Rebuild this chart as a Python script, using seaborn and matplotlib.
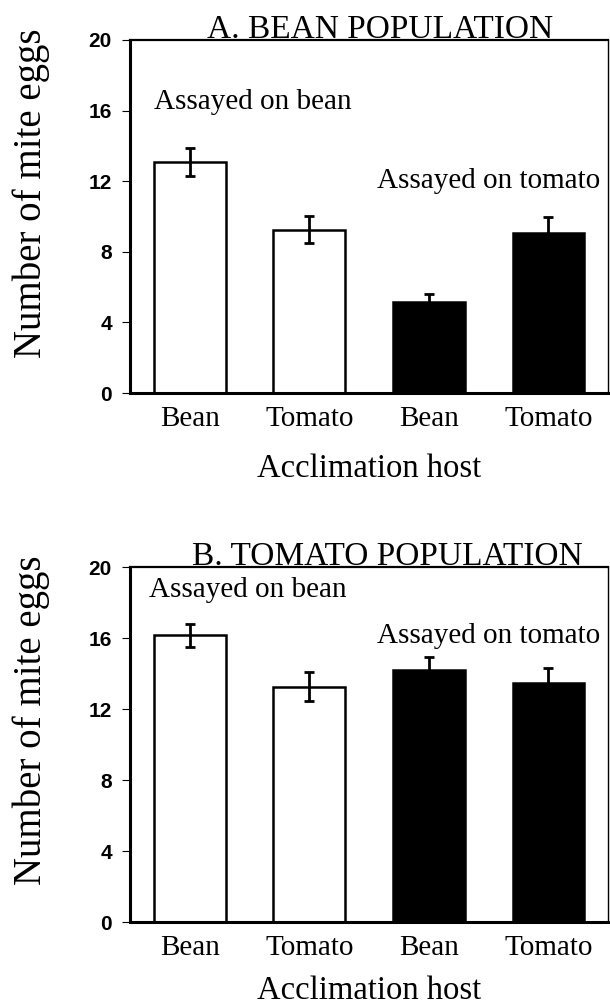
import numpy as np
import pandas as pd
import matplotlib
matplotlib.use("Agg")
import matplotlib.pyplot as plt
import seaborn as sns

# acclimation host per bar, assay host per bar
acclimation = ["Bean", "Tomato", "Bean", "Tomato"]
assay = ["bean", "bean", "tomato", "tomato"]

# panel A: bean population
bean_pop_mean = [13.1, 9.25, 5.15, 9.05]
bean_pop_se = [0.8, 0.77, 0.45, 0.9]

# panel B: tomato population
tomato_pop_mean = [16.15, 13.25, 14.2, 13.45]
tomato_pop_se = [0.65, 0.82, 0.75, 0.85]

panel_titles = ["A. BEAN POPULATION", "B. TOMATO POPULATION"]
yticks = [0, 4, 8, 12, 16, 20]

sns.set_style("white")
plt.rcParams.update({
    "text.color": "black",
    "axes.labelcolor": "black",
    "xtick.color": "black",
    "ytick.color": "black",
})
serif = "Liberation Serif"
sans = "Liberation Sans"

fig = plt.figure(figsize=(6.1, 10.07), dpi=100)
ax_a = fig.add_axes([0.213, 0.6097, 0.784, 0.3506])
ax_b = fig.add_axes([0.213, 0.0844, 0.784, 0.3525])

# label positions (data coords) for the "Assayed on ..." notes
notes = [
    [(-0.3, 16.1, "Assayed on bean"), (1.57, 11.6, "Assayed on tomato")],
    [(-0.34, 18.3, "Assayed on bean"), (1.57, 15.7, "Assayed on tomato")],
]
title_x = [0.524, 0.539]
xlabel_pad = [15.5, 10.5]

for ax, means, ses, title, tx, note, lpad in zip(
    [ax_a, ax_b],
    [bean_pop_mean, tomato_pop_mean],
    [bean_pop_se, tomato_pop_se],
    panel_titles,
    title_x,
    notes,
    xlabel_pad,
):
    df = pd.DataFrame({
        "cond": [f"{a}-{b}" for a, b in zip(assay, acclimation)],
        "host": acclimation,
        "eggs": means,
        "se": ses,
    })
    fills = ["white" if a == "bean" else "black" for a in assay]
    sns.barplot(data=df, x="cond", y="eggs", hue="cond", palette=fills,
                edgecolor="black", linewidth=1.8, width=0.6,
                errorbar=None, legend=False, ax=ax)
    ax.errorbar(np.arange(len(df)), df["eggs"], yerr=df["se"], fmt="none",
                ecolor="black", elinewidth=2, capsize=3.5, capthick=2)

    ax.set_xlim(-0.5, 3.5)
    ax.set_ylim(0, 20)
    ax.set_yticks(yticks)
    ax.set_yticklabels([str(t) for t in yticks], fontfamily=sans,
                       fontweight="bold", fontsize=15)
    ax.set_xticks(range(len(df)))
    ax.set_xticklabels(df["host"], fontfamily=serif, fontsize=21)
    ax.set_xticks([-0.5, 0.5, 1.5, 2.5], minor=True)
    ax.tick_params(axis="x", which="major", length=0, pad=9)
    ax.tick_params(axis="x", which="minor", length=4, width=0.8,
                   direction="out", color="black")
    ax.tick_params(axis="y", length=5.5, width=0.8, direction="out",
                   color="black", pad=7.5, left=True)

    ax.set_xlabel("Acclimation host", fontfamily=serif, fontsize=23.5,
                  labelpad=lpad)
    ax.set_ylabel("Number of mite eggs", fontfamily=serif, fontsize=28)
    ax.yaxis.set_label_coords(-0.167, 0.567)

    for side, lw in [("left", 2.2), ("bottom", 2.2), ("top", 1.6),
                     ("right", 1.0)]:
        ax.spines[side].set_visible(True)
        ax.spines[side].set_color("black")
        ax.spines[side].set_linewidth(lw)

    ax.text(tx, 1.005, title, transform=ax.transAxes, ha="center",
            va="baseline", fontfamily=serif, fontsize=24)
    for x, y, s in note:
        ax.text(x, y, s, ha="left", va="baseline", fontfamily=serif,
                fontsize=21)

fig.savefig("out.png", dpi=100, facecolor="white")
